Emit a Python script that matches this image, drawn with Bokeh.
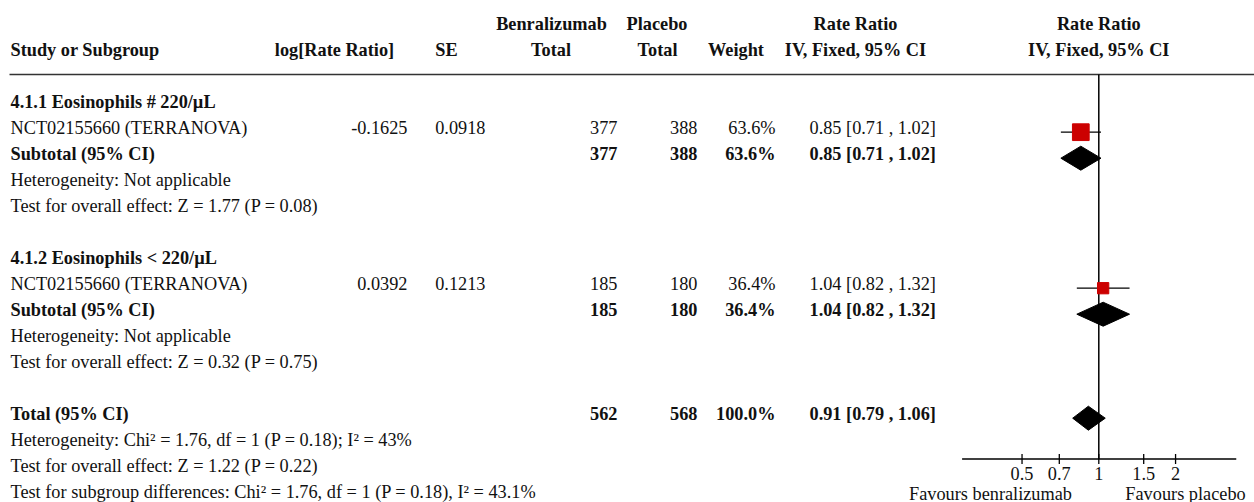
from bokeh.plotting import figure
from bokeh.models import Range1d, LogScale, ColumnDataSource
from bokeh.core.properties import value
from bokeh.embed import file_html
from bokeh.resources import INLINE

# ---------------- data ----------------
subgroups = ["4.1.1 Eosinophils # 220/\u00b5L", "4.1.2 Eosinophils < 220/\u00b5L"]
studies = ["NCT02155660 (TERRANOVA)", "NCT02155660 (TERRANOVA)"]
log_rr = ["-0.1625", "0.0392"]
se = ["0.0918", "0.1213"]
benra_total = [377, 185]
placebo_total = [388, 180]
weight = [63.6, 36.4]
rr = [0.85, 1.04]
rr_lo = [0.71, 0.82]
rr_hi = [1.02, 1.32]
sub_het = ["Heterogeneity: Not applicable", "Heterogeneity: Not applicable"]
sub_test = ["Test for overall effect: Z = 1.77 (P = 0.08)",
            "Test for overall effect: Z = 0.32 (P = 0.75)"]
total_benra = 562
total_placebo = 568
total_weight = 100.0
total_rr = 0.91
total_lo = 0.79
total_hi = 1.06
total_notes = ["Heterogeneity: Chi\u00b2 = 1.76, df = 1 (P = 0.18); I\u00b2 = 43%",
               "Test for overall effect: Z = 1.22 (P = 0.22)",
               "Test for subgroup differences: Chi\u00b2 = 1.76, df = 1 (P = 0.18), I\u00b2 = 43.1%"]
ticks = [0.5, 0.7, 1, 1.5, 2]
tick_labels = ["0.5", "0.7", "1", "1.5", "2"]
axis_limits = [0.291, 3.46]
favours = ["Favours benralizumab", "Favours placebo"]

# ---------------- layout ----------------
W, H = 1254, 502
FONT = value("Liberation Serif")
FS = "18.3px"
ROW_PX = 26.0
TOP_ROW_PAGE_Y = 101.0
MARK_DY = 4.7 / ROW_PX
ONE_X = 1098.3          # page x of rate ratio 1
DECADE = 255.0          # px per decade


def row_of(page_y):
    return (page_y - TOP_ROW_PAGE_Y) / ROW_PX


y_top = row_of(0)
y_bot = row_of(H)
rr_start = 10 ** ((0 - ONE_X) / DECADE)
rr_end = 10 ** ((W - ONE_X) / DECADE)

p = figure(width=W, height=H, x_range=Range1d(0, W), y_range=Range1d(y_bot, y_top),
           output_backend="svg", toolbar_location=None, x_axis_type=None, y_axis_type=None,
           min_border=0, min_border_left=0, min_border_right=0, min_border_top=0,
           min_border_bottom=0, outline_line_color=None, background_fill_color="white",
           border_fill_color="white")
p.extra_x_ranges = {"rr": Range1d(rr_start, rr_end)}
p.extra_x_scales = {"rr": LogScale()}

# column positions (page px)
X_STUDY = 10
X_LOG = 407
X_SE = 485
X_BEN = 617
X_PLA = 697
X_W = 775
X_CI = 809

cols = {"x": [], "y": [], "t": [], "a": [], "s": []}


def add(x, y, t, align="left", bold=False):
    cols["x"].append(x)
    cols["y"].append(y)
    cols["t"].append(t)
    cols["a"].append(align)
    cols["s"].append("bold" if bold else "normal")


def ci_text(e, lo, hi):
    return f"{e:.2f} [{lo:.2f} , {hi:.2f}]"


# headers
add(551, -3, "Benralizumab", "center", True)
add(656.5, -3, "Placebo", "center", True)
add(855, -3, "Rate Ratio", "center", True)
add(ONE_X, -3, "Rate Ratio", "center", True)
add(X_STUDY, -2, "Study or Subgroup", "left", True)
add(334, -2, "log[Rate Ratio]", "center", True)
add(446, -2, "SE", "center", True)
add(550.5, -2, "Total", "center", True)
add(657, -2, "Total", "center", True)
add(735.5, -2, "Weight", "center", True)
add(855, -2, "IV, Fixed, 95% CI", "center", True)
add(ONE_X, -2, "IV, Fixed, 95% CI", "center", True)

study_rows = []
sub_rows = []
for g in range(len(subgroups)):
    base = g * 6
    add(X_STUDY, base, subgroups[g], "left", True)
    r = base + 1
    study_rows.append(r)
    add(X_STUDY, r, studies[g])
    add(X_LOG, r, log_rr[g], "right")
    add(X_SE, r, se[g], "right")
    add(X_BEN, r, str(benra_total[g]), "right")
    add(X_PLA, r, str(placebo_total[g]), "right")
    add(X_W, r, f"{weight[g]:.1f}%", "right")
    add(X_CI, r, ci_text(rr[g], rr_lo[g], rr_hi[g]))
    r = base + 2
    sub_rows.append(r)
    add(X_STUDY, r, "Subtotal (95% CI)", "left", True)
    add(X_BEN, r, str(benra_total[g]), "right", True)
    add(X_PLA, r, str(placebo_total[g]), "right", True)
    add(X_W, r, f"{weight[g]:.1f}%", "right", True)
    add(X_CI, r, ci_text(rr[g], rr_lo[g], rr_hi[g]), "left", True)
    add(X_STUDY, base + 3, sub_het[g])
    add(X_STUDY, base + 4, sub_test[g])

TR = 12
add(X_STUDY, TR, "Total (95% CI)", "left", True)
add(X_BEN, TR, str(total_benra), "right", True)
add(X_PLA, TR, str(total_placebo), "right", True)
add(X_W, TR, f"{total_weight:.1f}%", "right", True)
add(X_CI, TR, ci_text(total_rr, total_lo, total_hi), "left", True)
for k, note in enumerate(total_notes):
    add(X_STUDY, TR + 1 + k, note)

fav_y = row_of(493)
add(990, fav_y, favours[0], "center")
add(1185, fav_y, favours[1], "center")

src = ColumnDataSource(cols)
p.text(x="x", y="y", text="t", text_align="a", text_font_style="s", source=src,
       text_font=FONT, text_font_size=FS, text_baseline="middle", text_color="#111111")

# header rule
rule_y = row_of(74)
p.segment(x0=[9], x1=[W], y0=[rule_y], y1=[rule_y], line_color="#333333", line_width=1.6)

# forest plot
axis_y = row_of(458.5)
tick_half = 5.0 / ROW_PX
p.segment(x0=[1], x1=[1], y0=[rule_y], y1=[axis_y], x_range_name="rr",
          line_color="black", line_width=1.5)
p.segment(x0=[axis_limits[0]], x1=[axis_limits[1]], y0=[axis_y], y1=[axis_y],
          x_range_name="rr", line_color="black", line_width=1.3)
p.segment(x0=ticks, x1=ticks, y0=[axis_y - tick_half] * len(ticks),
          y1=[axis_y + tick_half] * len(ticks), x_range_name="rr",
          line_color="black", line_width=1.3)
p.text(x=ticks, y=[row_of(472.5)] * len(ticks), text=tick_labels, x_range_name="rr",
       text_align="center", text_baseline="middle", text_font=FONT, text_font_size=FS,
       text_color="#111111")

# study CIs and squares
sy = [r + MARK_DY for r in study_rows]
p.segment(x0=rr_lo, x1=rr_hi, y0=sy, y1=sy, x_range_name="rr", line_color="black", line_width=1.2)
sizes = [4 + 0.2 * w for w in weight]
p.scatter(x=rr, y=sy, size=sizes, marker="square", x_range_name="rr",
          fill_color="#CC0000", line_color="#CC0000")

# diamonds
DH = 12.0 / ROW_PX
dxs, dys = [], []
for g in range(len(subgroups)):
    yc = sub_rows[g] + MARK_DY
    dxs.append([rr_lo[g], rr[g], rr_hi[g], rr[g]])
    dys.append([yc, yc - DH, yc, yc + DH])
yc = TR + MARK_DY
dxs.append([total_lo, total_rr, total_hi, total_rr])
dys.append([yc, yc - DH, yc, yc + DH])
p.patches(xs=dxs, ys=dys, x_range_name="rr", fill_color="black", line_color="black")

open("out.html", "w").write(file_html(p, INLINE))
